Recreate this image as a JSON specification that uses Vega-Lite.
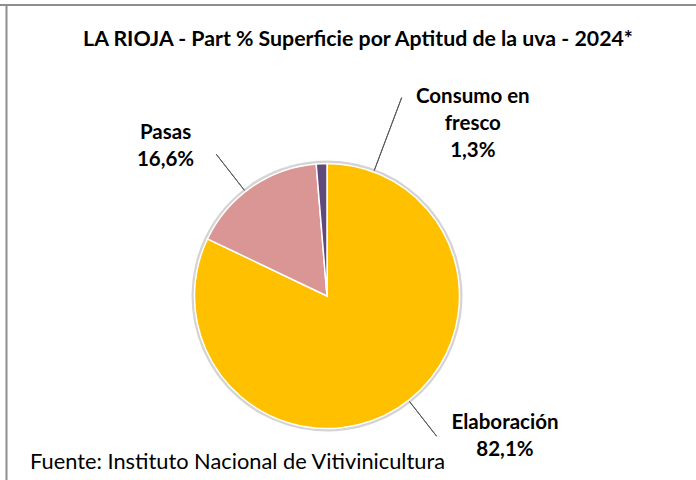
{
  "$schema": "https://vega.github.io/schema/vega-lite/v6.json",
  "width": 800,
  "height": 582,
  "autosize": {"type": "none"},
  "padding": {"left": -73, "top": 5, "right": -31, "bottom": -107},
  "background": "white",
  "view": {"stroke": "#8e8e8e", "strokeWidth": 2},
  "title": {
    "text": "LA RIOJA - Part %  Superficie por Aptitud de la uva - 2024*",
    "anchor": "middle",
    "orient": "top",
    "font": "Lato",
    "fontSize": 21.3,
    "fontWeight": "bold",
    "color": "#000000",
    "baseline": "alphabetic",
    "offset": 0,
    "dx": 31,
    "dy": 62
  },
  "data": {
    "values": [
      {"cat": "Elaboración", "value": 82.1, "label": "Elaboración\n82,1%"},
      {"cat": "Pasas", "value": 16.6, "label": "Pasas\n16,6%"},
      {"cat": "Consumo en fresco", "value": 1.3, "label": "Consumo en\nfresco\n1,3%"}
    ]
  },
  "layer": [
    {
      "mark": {"type": "point", "opacity": 0},
      "encoding": {
        "y": {
          "field": "value",
          "type": "quantitative",
          "axis": {"domain": true, "domainColor": "#8e8e8e", "domainWidth": 2, "ticks": false, "labels": false, "grid": false, "title": null, "offset": -79}
        }
      }
    },
    {
      "transform": [{"stack": "value", "groupby": [], "sort": [{"field": "value", "order": "descending"}], "as": ["s0", "s1"]}],
      "mark": {"type": "arc", "radius": 135.5, "fill": "#d4d4d4"},
      "encoding": {
        "theta": {"field": "s0", "type": "quantitative", "scale": {"domain": [0, 100]}},
        "theta2": {"field": "s1"}
      }
    },
    {
      "transform": [{"stack": "value", "groupby": [], "sort": [{"field": "value", "order": "descending"}], "as": ["s0", "s1"]}],
      "mark": {"type": "arc", "radius": 132.5, "stroke": "white", "strokeWidth": 1.5},
      "encoding": {
        "theta": {"field": "s0", "type": "quantitative"},
        "theta2": {"field": "s1"},
        "color": {
          "field": "cat",
          "type": "nominal",
          "scale": {"domain": ["Elaboración", "Pasas", "Consumo en fresco"], "range": ["#FFC000", "#D99694", "#604A7B"]},
          "legend": null
        }
      }
    },
    {
      "transform": [
        {"stack": "value", "groupby": [], "sort": [{"field": "value", "order": "descending"}], "as": ["s0", "s1"]},
        {"filter": "datum.cat === 'Elaboración'"}
      ],
      "mark": {"type": "arc", "radius": 178, "radius2": 134, "thetaOffset": 2.478, "theta2Offset": 2.478, "fill": "transparent", "stroke": "#595959", "strokeWidth": 1},
      "encoding": {"theta": {"field": "s0", "type": "quantitative"}, "theta2": {"field": "s0"}}
    },
    {
      "transform": [
        {"stack": "value", "groupby": [], "sort": [{"field": "value", "order": "descending"}], "as": ["s0", "s1"]},
        {"filter": "datum.cat === 'Pasas'"}
      ],
      "mark": {"type": "arc", "radius": 180, "radius2": 134, "thetaOffset": 0.4615, "theta2Offset": 0.4615, "fill": "transparent", "stroke": "#595959", "strokeWidth": 1},
      "encoding": {"theta": {"field": "s0", "type": "quantitative"}, "theta2": {"field": "s0"}}
    },
    {
      "transform": [
        {"stack": "value", "groupby": [], "sort": [{"field": "value", "order": "descending"}], "as": ["s0", "s1"]},
        {"filter": "datum.cat === 'Consumo en fresco'"}
      ],
      "mark": {"type": "arc", "radius": 212, "radius2": 134, "thetaOffset": 0.36, "theta2Offset": 0.36, "fill": "transparent", "stroke": "#595959", "strokeWidth": 1},
      "encoding": {"theta": {"field": "s1", "type": "quantitative"}, "theta2": {"field": "s1"}}
    },
    {
      "mark": {"type": "text", "radius": 180, "dx": 82, "dy": -19, "align": "center", "baseline": "alphabetic", "lineBreak": "\n", "lineHeight": 27, "font": "Lato", "fontSize": 20.5, "fontWeight": "bold", "color": "#000000"},
      "encoding": {
        "theta": {"field": "value", "type": "quantitative", "stack": true},
        "order": {"field": "value", "type": "quantitative", "sort": "descending"},
        "text": {"condition": {"test": "datum.cat === 'Elaboración'", "field": "label"}, "value": ""}
      }
    },
    {
      "mark": {"type": "text", "radius": 200, "dx": -48, "dy": 8, "align": "center", "baseline": "alphabetic", "lineBreak": "\n", "lineHeight": 27, "font": "Lato", "fontSize": 20.5, "fontWeight": "bold", "color": "#000000"},
      "encoding": {
        "theta": {"field": "value", "type": "quantitative", "stack": true},
        "order": {"field": "value", "type": "quantitative", "sort": "descending"},
        "text": {"condition": {"test": "datum.cat === 'Pasas'", "field": "label"}, "value": ""}
      }
    },
    {
      "mark": {"type": "text", "radius": 200, "dx": 154, "dy": 7, "align": "center", "baseline": "alphabetic", "lineBreak": "\n", "lineHeight": 27, "font": "Lato", "fontSize": 20.5, "fontWeight": "bold", "color": "#000000"},
      "encoding": {
        "theta": {"field": "value", "type": "quantitative", "stack": true},
        "order": {"field": "value", "type": "quantitative", "sort": "descending"},
        "text": {"condition": {"test": "datum.cat === 'Consumo en fresco'", "field": "label"}, "value": ""}
      }
    },
    {
      "data": {"values": [{"t": "Fuente: Instituto Nacional de Vitivinicultura"}]},
      "mark": {"type": "text", "align": "left", "baseline": "alphabetic", "dx": -297, "dy": 173, "font": "Lato", "fontSize": 21.8, "color": "#000000"},
      "encoding": {"text": {"field": "t", "type": "nominal"}}
    }
  ]
}
